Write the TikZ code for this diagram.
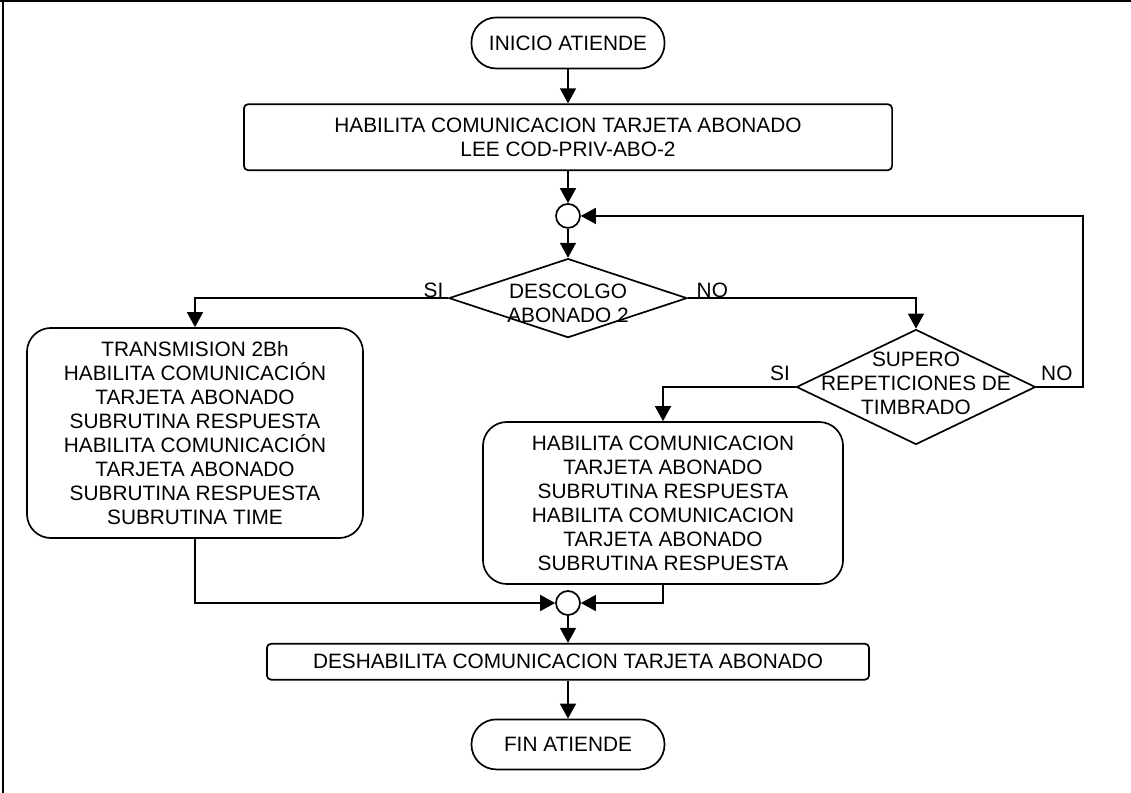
\documentclass[tikz,border=0pt]{standalone}
\usepackage{fontspec}
\setmainfont{Liberation Sans}
\usetikzlibrary{arrows.meta,positioning,shapes.geometric}

\begin{document}
\begin{tikzpicture}[
    x=0.025cm, y=-0.025cm,
    font=\fontsize{14.8}{17.1}\selectfont,
    line width=1.2pt,
    terminal/.style={draw, rectangle, rounded corners=0.62cm, minimum width=4.825cm, minimum height=1.275cm, inner sep=1pt},
    process/.style={draw, rectangle, rounded corners=3pt, align=center, inner sep=1pt},
    block/.style={draw, rectangle, rounded corners=0.6cm, align=center, inner sep=1pt},
    decision/.style={draw, diamond, inner sep=0pt},
    junction/.style={draw, circle, minimum size=0.6cm, inner sep=0pt},
    arrow/.style={-{Triangle[length=0.375cm, width=0.4cm]}},
    answer/.style={inner sep=0pt}
]
    \useasboundingbox (0,0) rectangle (1131,793);
    % frame
    \draw[line width=1.5pt] (0,1) -- (1131,1);
    \draw[line width=1.5pt] (3,0) -- (3,793);

    \node[terminal] (start) at (568,43) {INICIO ATIENDE};
    \node[process, minimum width=16.2cm, minimum height=1.65cm] (hab) [below=0.85cm of start] {HABILITA COMUNICACION TARJETA ABONADO\\LEE COD-PRIV-ABO-2};
    \node[junction] (c1) [below=0.8cm of hab] {};
    \node[decision, minimum width=5.95cm, minimum height=1.975cm,
          label={[align=center, yshift=-0.125cm]center:DESCOLGO\\ABONADO 2}] (d1) [below=0.725cm of c1] {};
    \node[block, minimum width=8.4cm, minimum height=5.25cm] (left) at (195,433) {TRANSMISION 2Bh\\HABILITA COMUNICACIÓN\\TARJETA ABONADO\\SUBRUTINA RESPUESTA\\HABILITA COMUNICACIÓN\\TARJETA ABONADO\\SUBRUTINA RESPUESTA\\SUBRUTINA TIME};
    \node[decision, minimum width=5.975cm, minimum height=2.875cm,
          label={[align=center, yshift=0.1cm]center:SUPERO\\REPETICIONES DE\\TIMBRADO}] (d2) at (916,387) {};
    \node[block, minimum width=9cm, minimum height=4.05cm] (right) at (663,503) {HABILITA COMUNICACION\\TARJETA ABONADO\\SUBRUTINA RESPUESTA\\HABILITA COMUNICACION\\TARJETA ABONADO\\SUBRUTINA RESPUESTA};
    \node[junction] (c2) at (568,603) {};
    \node[process, minimum width=15.05cm, minimum height=0.9cm] (desh) [below=0.675cm of c2] {DESHABILITA COMUNICACION TARJETA ABONADO};
    \node[terminal, minimum height=1.25cm] (fin) [below=0.95cm of desh] {FIN ATIENDE};

    % answers
    \node[answer, anchor=base east, xshift=-0.1cm, yshift=0.02cm] (si1) at (d1.west) {SI};
    \node[answer, anchor=base west, xshift=0.2cm, yshift=0.02cm] (no1) at (d1.east) {NO};
    \node[answer, anchor=base east, xshift=-0.125cm, yshift=0.16cm] (si2) at (d2.west) {SI};
    \node[answer, anchor=base west, xshift=0.1cm, yshift=0.16cm] (no2) at (d2.east) {NO};

    \coordinate (back) at (1083,387);

    \draw[arrow] (start) -- (hab);
    \draw[arrow] (hab) -- (c1);
    \draw[arrow] (c1) -- (d1);
    \draw[arrow] (d1.west) -| (left.north);
    \draw[arrow] (d1.east) -| (d2.north);
    \draw[arrow] (d2.west) -| (right.north);
    \draw[arrow] (d2.east) -- (back) |- (c1.east);
    \draw[arrow] (left.south) |- (c2.west);
    \draw[arrow] (right.south) |- (c2.east);
    \draw[arrow] (c2) -- (desh);
    \draw[arrow] (desh) -- (fin);
\end{tikzpicture}
\end{document}
